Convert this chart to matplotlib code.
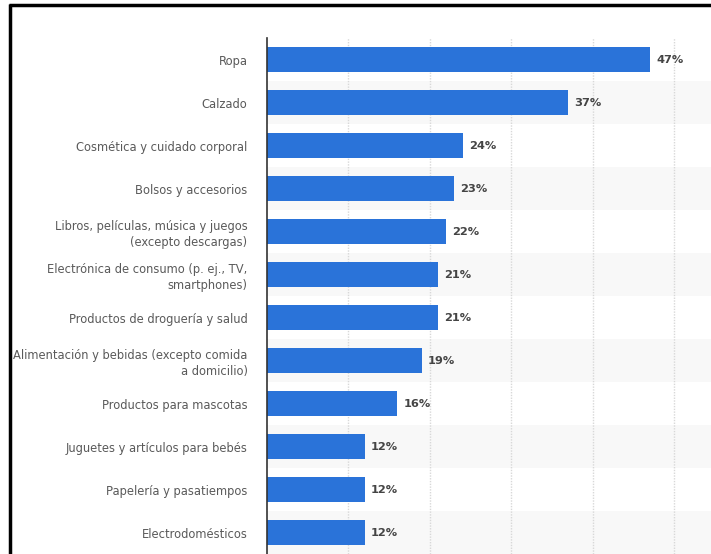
import matplotlib.pyplot as plt
import numpy as np

categorias = ["Ropa", "Calzado", "Cosmética y cuidado corporal", "Bolsos y accesorios",
              "Libros, películas, música y juegos\n(excepto descargas)",
              "Electrónica de consumo (p. ej., TV,\nsmartphones)",
              "Productos de droguería y salud",
              "Alimentación y bebidas (excepto comida\na domicilio)",
              "Productos para mascotas", "Juguetes y artículos para bebés",
              "Papelería y pasatiempos", "Electrodomésticos"]
valores = [47, 37, 24, 23, 22, 21, 21, 19, 16, 12, 12, 12]

plt.rcParams['font.family'] = ['DejaVu Sans']

fig = plt.figure(figsize=(7.11, 5.54), dpi=100)
ax = fig.add_axes([267/711, 0, 444/711, 516/554])

n = len(categorias)
y = np.arange(n)

# bandas alternas de fondo
for i in y:
    if i % 2 == 1:
        ax.axhspan(i-0.5, i+0.5, color='#f8f8f8', zorder=0, lw=0)

ax.barh(y, valores, height=0.56, color='#2a73d9', zorder=3)
for yi, v in zip(y, valores):
    ax.text(v+0.75, yi, f"{v}%", va='center', ha='left', fontsize=8.2,
            color='#444444', fontweight='semibold', zorder=4)

ax.set_yticks(y)
ax.set_yticklabels(categorias, fontsize=8.3, color='#5a5a5a', linespacing=1.3)
ax.tick_params(axis='y', length=0, pad=14)
ax.set_ylim(n-0.5, -0.5)
ax.set_xlim(0, 54.5)
ax.set_xticks([10, 20, 30, 40, 50])
ax.tick_params(axis='x', length=0, labelbottom=False)
ax.grid(axis='x', linestyle=(0, (1, 1)), color='#d8d8d8', lw=1, zorder=1)

for s in ['top', 'right', 'bottom']:
    ax.spines[s].set_visible(False)
ax.spines['left'].set_color('#333333')
ax.spines['left'].set_linewidth(1.2)
ax.spines['left'].set_zorder(5)

# marco negro superior e izquierdo
fig.add_artist(plt.Line2D([10/711, 10/711], [0, 1-3.5/554], color='black', lw=2.5,
                          solid_capstyle='butt', transform=fig.transFigure))
fig.add_artist(plt.Line2D([8.8/711, 1], [1-4.5/554, 1-4.5/554], color='black', lw=2.5,
                          solid_capstyle='butt', transform=fig.transFigure))

fig.savefig("out.png", dpi=100)
